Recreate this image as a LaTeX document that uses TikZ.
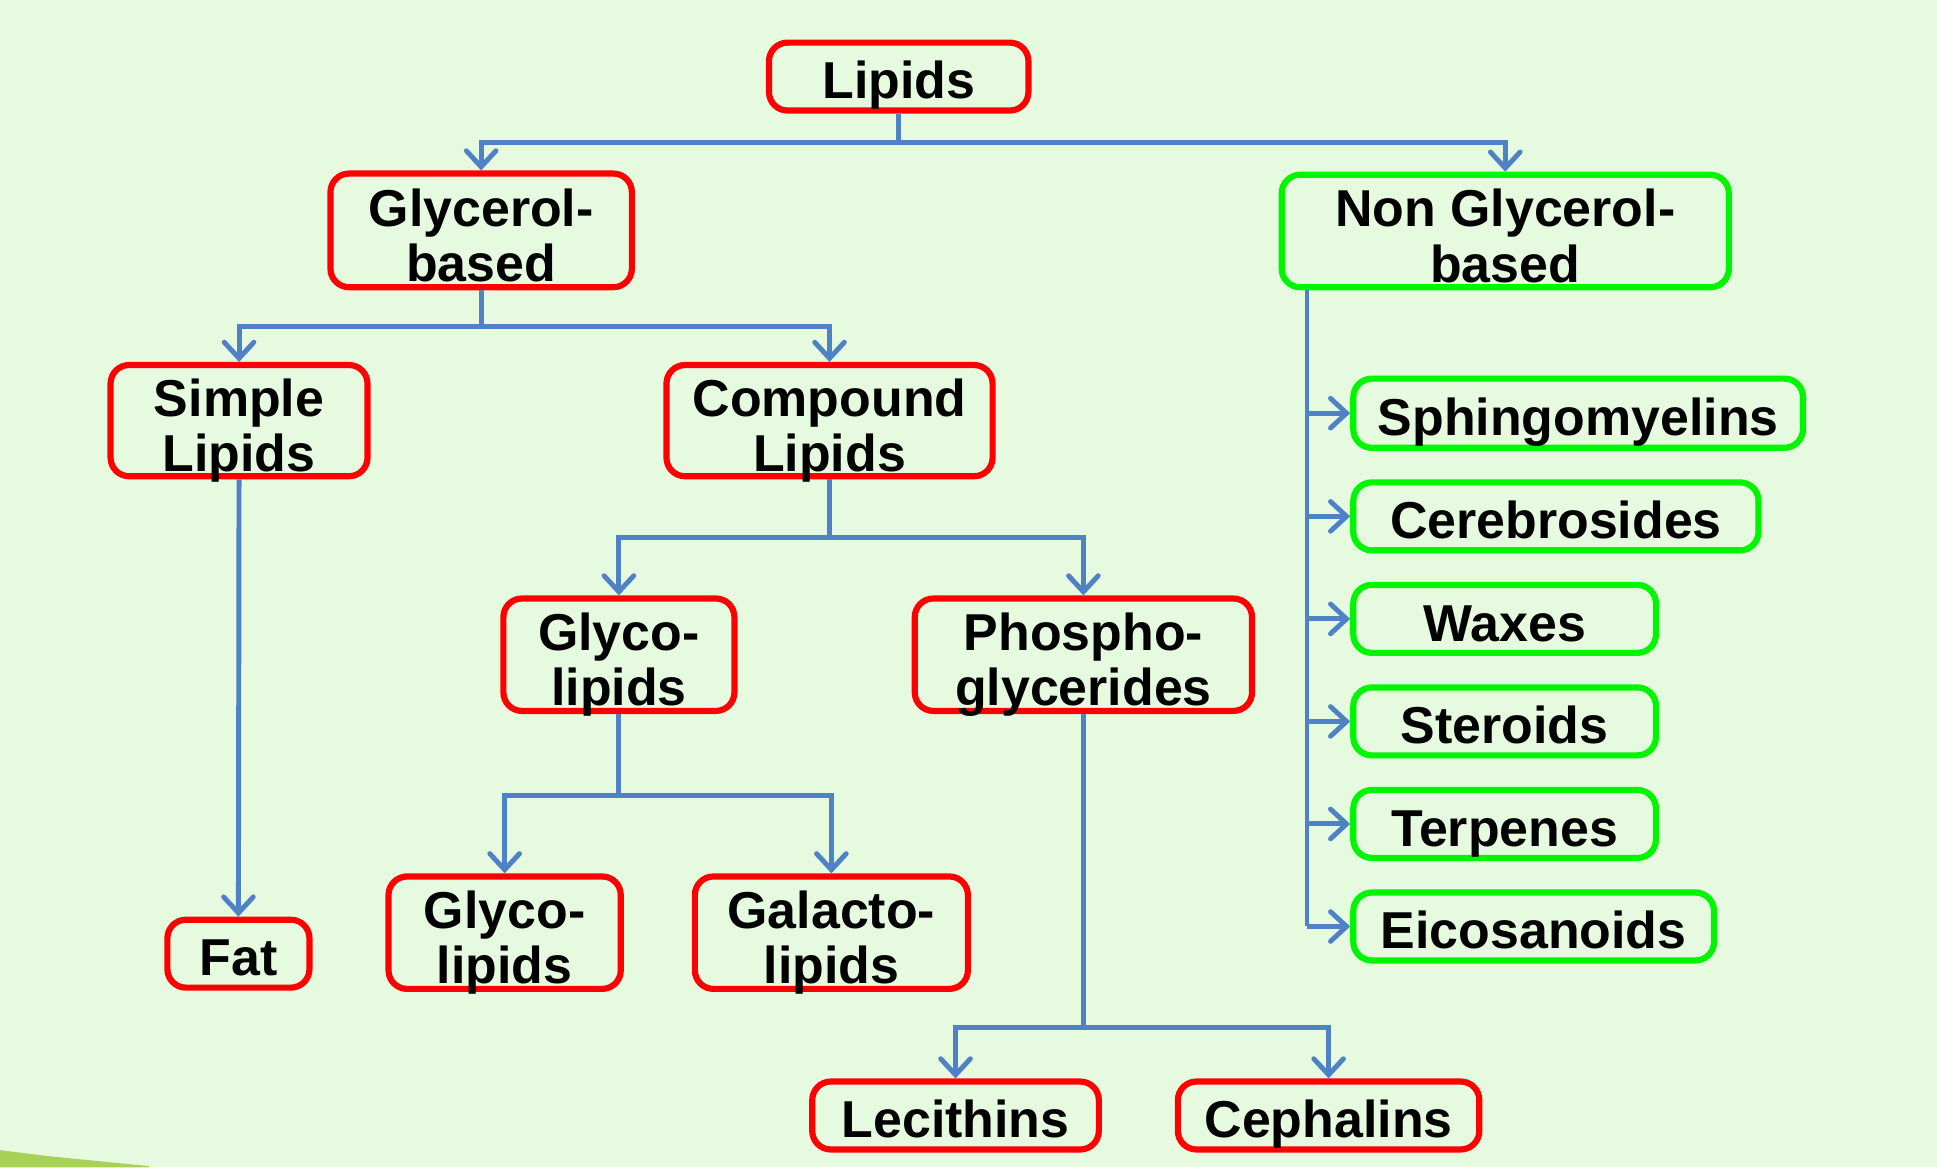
\documentclass[tikz,border=0pt]{standalone}
\usepackage{fontspec}
\setmainfont{Liberation Sans}
\usetikzlibrary{arrows.meta,calc}
\definecolor{bgc}{RGB}{230,250,224}
\definecolor{linec}{RGB}{79,129,199}
\definecolor{redc}{RGB}{255,0,0}
\definecolor{greenc}{RGB}{0,245,0}
\definecolor{stripec}{RGB}{168,210,86}
\begin{document}
\begin{tikzpicture}[x=0.5pt,y=-0.5pt,
  box/.style={draw=redc,line width=2.5pt,rounded corners=7.5pt,inner sep=0pt,align=center,
    text height=18pt,text depth=0pt,
    font=\fontsize{21}{22.5}\selectfont\bfseries,text=black},
  two/.style={text height=41.5pt,text depth=0pt},
  gbox/.style={box,draw=greenc},
  link/.style={draw=linec,line width=2pt},
  arr/.style={link,-{Straight Barb[length=6.5pt,width=12pt,line width=2pt,line cap=round]}}]
\useasboundingbox[fill=bgc] (0,0) rectangle (1568,945);
\fill[stripec] (0,931) -- (40,936) -- (121,944) -- (121,945) -- (0,945) -- cycle;
% nodes
\node[box,minimum width=105pt,minimum height=27.5pt] (lip) at (727.5,62) {Lipids};
\node[box,two,minimum width=122pt,minimum height=46pt] (gly) at (389.5,186.5) {Glycerol-\\based};
\node[gbox,two,minimum width=181pt,minimum height=45.5pt] (ngl) at (1218.5,187) {Non Glycerol-\\based};
\node[box,two,minimum width=104pt,minimum height=45pt] (sim) at (193.5,340.5) {Simple\\Lipids};
\node[box,two,minimum width=132pt,minimum height=45pt] (com) at (671.5,340.5) {Compound\\Lipids};
\node[box,two,minimum width=93.5pt,minimum height=45.5pt] (gla) at (501,530) {Glyco-\\lipids};
\node[box,two,minimum width=136.5pt,minimum height=45.5pt] (pho) at (877,530) {Phospho-\\glycerides};
\node[box,minimum width=57.5pt,minimum height=27.5pt] (fat) at (193,772) {Fat};
\node[box,two,minimum width=94pt,minimum height=45.5pt] (glb) at (408.5,755) {Glyco-\\lipids};
\node[box,two,minimum width=110.5pt,minimum height=45.5pt] (gal) at (673,755) {Galacto-\\lipids};
\node[box,minimum width=116pt,minimum height=27.5pt] (lec) at (773.5,903) {Lecithins};
\node[box,minimum width=122pt,minimum height=27.5pt] (cep) at (1075.5,903) {Cephalins};
\node[gbox,minimum width=182pt,minimum height=28pt] (sph) at (1277.5,334.5) {Sphingomyelins};
\node[gbox,minimum width=164pt,minimum height=27.5pt] (cer) at (1259.5,418) {Cerebrosides};
\node[gbox,minimum width=122.5pt,minimum height=27.5pt] (wax) at (1218,501) {Waxes};
\node[gbox,minimum width=122.5pt,minimum height=27.5pt] (ste) at (1218,584) {Steroids};
\node[gbox,minimum width=122.5pt,minimum height=27.5pt] (ter) at (1218,667) {Terpenes};
\node[gbox,minimum width=146pt,minimum height=27.5pt] (eic) at (1241.5,750) {Eicosanoids};
% junctions
\coordinate (j1) at (lip.south |- 0,115);
\coordinate (j2) at (gly.south |- 0,264);
\coordinate (j3) at (com.south |- 0,435);
\coordinate (j4) at (gla.south |- 0,644);
\coordinate (j5) at (pho.south |- 0,832);
\coordinate (tr) at ($(ngl.south west)+(23,0)$);
% connectors
\draw[link] (lip.south) -- (j1);
\draw[arr] (j1) -| (gly.north);
\draw[arr] (j1) -| (ngl.north);
\draw[link] (gly.south) -- (j2);
\draw[arr] (j2) -| (sim.north);
\draw[arr] (j2) -| (com.north);
\draw[arr] (sim.south) -- (fat.north);
\draw[link] (com.south) -- (j3);
\draw[arr] (j3) -| (gla.north);
\draw[arr] (j3) -| (pho.north);
\draw[link] (gla.south) -- (j4);
\draw[arr] (j4) -| (glb.north);
\draw[arr] (j4) -| (gal.north);
\draw[link] (pho.south) -- (j5);
\draw[arr] (j5) -| (lec.north);
\draw[arr] (j5) -| (cep.north);
\draw[link] (tr) -- (tr |- eic.west);
\draw[arr] (tr |- sph.west) -- (sph.west);
\draw[arr] (tr |- cer.west) -- (cer.west);
\draw[arr] (tr |- wax.west) -- (wax.west);
\draw[arr] (tr |- ste.west) -- (ste.west);
\draw[arr] (tr |- ter.west) -- (ter.west);
\draw[arr] (tr |- eic.west) -- (eic.west);
\end{tikzpicture}
\end{document}
